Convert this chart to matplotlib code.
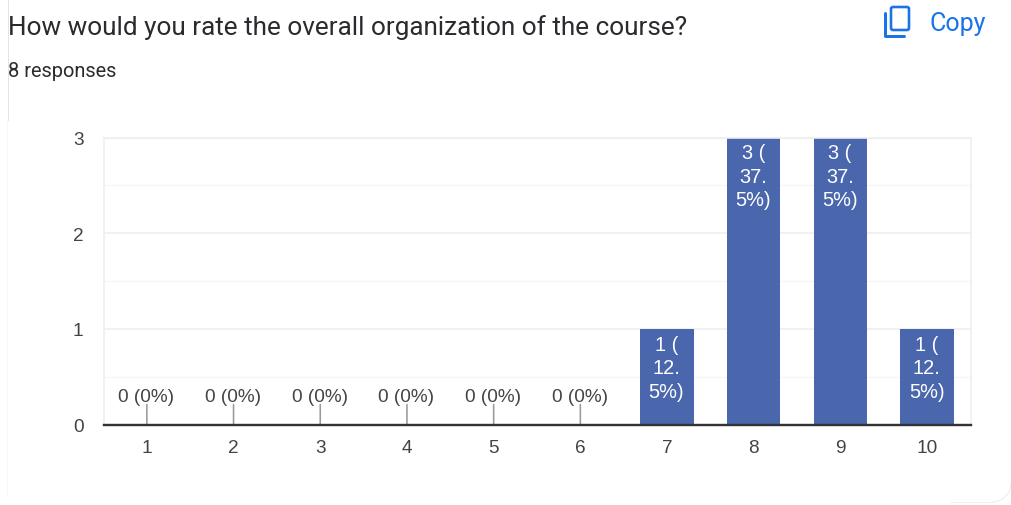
#!/usr/bin/env python3
# -*- coding: utf-8 -*-
import matplotlib
matplotlib.use('Agg')
import matplotlib.pyplot as plt
from matplotlib.patches import FancyBboxPatch, Arc
from matplotlib.ticker import MultipleLocator

categories = ['1', '2', '3', '4', '5', '6', '7', '8', '9', '10']
counts = [0, 0, 0, 0, 0, 0, 1, 3, 3, 1]
bar_labels = ['0 (0%)', '0 (0%)', '0 (0%)', '0 (0%)', '0 (0%)', '0 (0%)',
              '1 (\n12.\n5%)', '3 (\n37.\n5%)', '3 (\n37.\n5%)', '1 (\n12.\n5%)']
title = 'How would you rate the overall organization of the course?'
subtitle = '8 responses'

W, H = 1011, 506
px = 0.72  # points per pixel at dpi 100

fig = plt.figure(figsize=(W/100, H/100), dpi=100)

# Page layer in pixel coordinates
bg = fig.add_axes([0, 0, 1, 1])
bg.set_xlim(0, W)
bg.set_ylim(H, 0)
bg.axis('off')
bg.plot([7.5, 7.5], [0, 121], color='#e4e4e4', lw=1*px)
bg.plot([6.5, 6.5], [121, 496], color='#f7f7f7', lw=1*px)
bg.add_patch(Arc((992, 484), 38, 38, theta1=0, theta2=90, color='#ececec', lw=1*px))
bg.plot([950, 992], [503, 503], color='#f2f2f2', lw=1*px)
bg.text(8, 28, title, family='Roboto', fontsize=26.15*px, color='#2a2b2e', va='center')
bg.text(8, 71.5, subtitle, family='Roboto', fontsize=20*px, color='#2a2b2e', va='center')
bg.text(929.5, 23.5, 'Copy', family='Roboto', fontsize=25*px, color='#1a73e8', va='center')

# Copy icon
bg.add_patch(FancyBboxPatch((891, 8), 18, 23, boxstyle='round,pad=0,rounding_size=2',
                            fc='none', ec='#1a73e8', lw=2.6*px))
bg.plot([885, 885, 904], [14, 37, 37], color='#1a73e8', lw=3*px, solid_capstyle='round',
        solid_joinstyle='round')

# Chart
x0, x1, y0, y1 = 103.5, 970.5, 425.5, 138.5
ax = fig.add_axes([x0/W, 1 - y0/H, (x1 - x0)/W, (y0 - y1)/H])
ax.patch.set_alpha(0)
pos = list(range(1, len(categories) + 1))
ax.set_xlim(0.5, len(categories) + 0.5)
ax.set_ylim(0, 3)
ax.yaxis.set_major_locator(MultipleLocator(1))
ax.yaxis.set_minor_locator(MultipleLocator(0.5))
ax.grid(True, axis='y', which='major', color='#eeeeee', lw=1.6*px)
ax.grid(True, axis='y', which='minor', color='#f5f5f5', lw=1.2*px)
ax.set_axisbelow(True)
ax.bar(pos, counts, width=0.615, color='#4a66ac', zorder=2)

for s in ['left', 'right', 'top']:
    ax.spines[s].set_color('#eeeeee')
    ax.spines[s].set_linewidth(1.6*px)
ax.spines['bottom'].set_color('#333333')
ax.spines['bottom'].set_linewidth(2.4*px)
ax.spines['bottom'].set_zorder(4)

ax.set_xticks(pos, categories)
ax.set_yticks([0, 1, 2, 3])
ax.tick_params(axis='both', which='both', length=0)
ax.tick_params(axis='x', pad=14.5*px, labelsize=19*px, labelcolor='#444444')
ax.tick_params(axis='y', pad=20*px, labelsize=19*px, labelcolor='#444444')
for t in ax.get_xticklabels() + ax.get_yticklabels():
    t.set_family('Liberation Sans')

for p, c, lab in zip(pos, counts, bar_labels):
    if c == 0:
        ax.annotate('', xy=(p, c), xytext=(0, 20*px), textcoords='offset points',
                    arrowprops=dict(arrowstyle='-', color='#999999', lw=1.6*px,
                                    shrinkA=0, shrinkB=0), zorder=3)
        ax.annotate(lab, xy=(p, c), xytext=(-0.5*px, 19.5*px), textcoords='offset points',
                    ha='center', va='bottom', family='Liberation Sans',
                    fontsize=19*px, color='#444444', zorder=3)
    else:
        ax.annotate(lab, xy=(p, c), xytext=(-0.5*px, -6*px), textcoords='offset points',
                    ha='center', va='top', family='Liberation Sans', fontsize=20*px,
                    color='#ffffff', linespacing=1.3, zorder=3, annotation_clip=False)

fig.savefig('out.png', dpi=100)
